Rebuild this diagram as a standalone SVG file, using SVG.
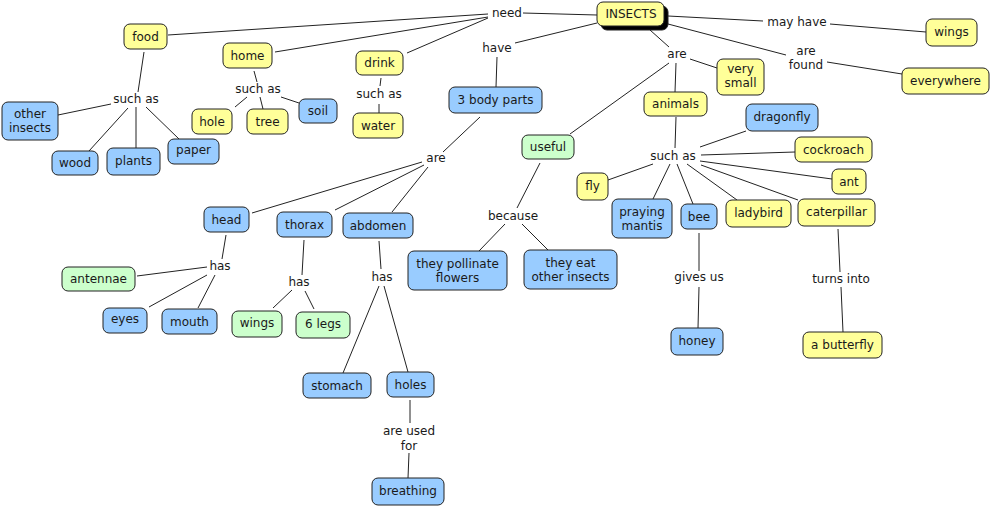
<svg xmlns="http://www.w3.org/2000/svg" width="991" height="507" viewBox="0 0 991 507">
<style>
text{font-family:"DejaVu Sans","Verdana",sans-serif;font-size:12px;fill:#1a1a1a;text-anchor:middle}
.n rect{stroke:#222;stroke-width:1}
.y rect{fill:#ffff99}
.b rect{fill:#99ccff}
.g rect{fill:#ccffcc}
#connectors line{stroke:#222;stroke-width:1}
</style>
<rect x="0" y="0" width="991" height="507" fill="#fff"/>
<g id="connectors">
<line x1="168" y1="35" x2="488" y2="14"/>
<line x1="275" y1="52" x2="488" y2="17"/>
<line x1="407" y1="53" x2="488" y2="18"/>
<line x1="523" y1="13" x2="597" y2="15"/>
<line x1="597" y1="23" x2="515" y2="43"/>
<line x1="497" y1="57" x2="496" y2="87"/>
<line x1="480" y1="117" x2="443" y2="152"/>
<line x1="422" y1="162" x2="252" y2="213"/>
<line x1="424" y1="165" x2="335" y2="210"/>
<line x1="428" y1="167" x2="392" y2="212"/>
<line x1="650" y1="30" x2="669" y2="47"/>
<line x1="669" y1="63" x2="570" y2="134"/>
<line x1="676" y1="63" x2="675" y2="92"/>
<line x1="690" y1="59" x2="717" y2="68"/>
<line x1="668" y1="16" x2="763" y2="21"/>
<line x1="830" y1="24" x2="926" y2="32"/>
<line x1="668" y1="24" x2="786" y2="55"/>
<line x1="827" y1="62" x2="902" y2="74"/>
<line x1="676" y1="117" x2="675" y2="148"/>
<line x1="700" y1="147" x2="746" y2="131"/>
<line x1="701" y1="155" x2="795" y2="152"/>
<line x1="700" y1="161" x2="832" y2="179"/>
<line x1="701" y1="165" x2="798" y2="200"/>
<line x1="687" y1="164" x2="737" y2="200"/>
<line x1="677" y1="164" x2="693" y2="204"/>
<line x1="670" y1="164" x2="653" y2="199"/>
<line x1="653" y1="164" x2="608" y2="180"/>
<line x1="699" y1="233" x2="699" y2="271"/>
<line x1="699" y1="287" x2="698" y2="328"/>
<line x1="838" y1="229" x2="840" y2="272"/>
<line x1="841" y1="287" x2="843" y2="332"/>
<line x1="540" y1="163" x2="517" y2="208"/>
<line x1="505" y1="224" x2="479" y2="251"/>
<line x1="522" y1="224" x2="548" y2="250"/>
<line x1="379" y1="241" x2="381" y2="269"/>
<line x1="379" y1="286" x2="343" y2="373"/>
<line x1="384" y1="286" x2="408" y2="372"/>
<line x1="410" y1="400" x2="410" y2="423"/>
<line x1="409" y1="453" x2="408" y2="478"/>
<line x1="226" y1="235" x2="222" y2="259"/>
<line x1="137" y1="276" x2="207" y2="267"/>
<line x1="149" y1="307" x2="207" y2="275"/>
<line x1="198" y1="308" x2="215" y2="275"/>
<line x1="304" y1="240" x2="302" y2="275"/>
<line x1="273" y1="308" x2="292" y2="290"/>
<line x1="314" y1="309" x2="305" y2="291"/>
<line x1="144" y1="52" x2="138" y2="92"/>
<line x1="111" y1="104" x2="58" y2="115"/>
<line x1="128" y1="108" x2="89" y2="151"/>
<line x1="136" y1="107" x2="136" y2="148"/>
<line x1="146" y1="107" x2="179" y2="139"/>
<line x1="254" y1="71" x2="257" y2="82"/>
<line x1="247" y1="97" x2="235" y2="107"/>
<line x1="260" y1="97" x2="263" y2="109"/>
<line x1="281" y1="97" x2="299" y2="103"/>
<line x1="381" y1="78" x2="380" y2="86"/>
<line x1="379" y1="104" x2="379" y2="113"/>
</g>
<!-- linking phrases -->
<g id="l-need"><text x="507" y="17">need</text></g>
<g id="l-have"><text x="497" y="52">have</text></g>
<g id="l-are1"><text x="677" y="58">are</text></g>
<g id="l-mayhave"><text x="797" y="26">may have</text></g>
<g id="l-arefound"><text x="806" y="55">are</text><text x="806" y="69">found</text></g>
<g id="l-suchas-food"><text x="136" y="103">such as</text></g>
<g id="l-suchas-home"><text x="258" y="93">such as</text></g>
<g id="l-suchas-drink"><text x="379" y="98">such as</text></g>
<g id="l-are2"><text x="436" y="162">are</text></g>
<g id="l-because"><text x="513" y="220">because</text></g>
<g id="l-suchas-animals"><text x="673" y="160">such as</text></g>
<g id="l-givesus"><text x="699" y="281">gives us</text></g>
<g id="l-turnsinto"><text x="841" y="283">turns into</text></g>
<g id="l-has-head"><text x="220" y="270">has</text></g>
<g id="l-has-thorax"><text x="299" y="286">has</text></g>
<g id="l-has-abdomen"><text x="382" y="281">has</text></g>
<g id="l-areusedfor"><text x="409" y="435">are used</text><text x="409" y="450">for</text></g>
<!-- concepts -->
<g id="insects" class="n y"><rect x="601" y="6" width="67" height="24" rx="6" fill="#000" style="fill:#000"/><rect x="597" y="2" width="67" height="24" rx="6" stroke-width="1.5"/><text x="631" y="18">INSECTS</text></g>
<g id="food" class="n y"><rect x="124" y="24" width="43" height="25" rx="6"/><text x="145.5" y="41">food</text></g>
<g id="home" class="n y"><rect x="223" y="43" width="49" height="25" rx="6"/><text x="247.5" y="60">home</text></g>
<g id="drink" class="n y"><rect x="356" y="51" width="47" height="24" rx="6"/><text x="379.5" y="67">drink</text></g>
<g id="water" class="n y"><rect x="353" y="113" width="50" height="25" rx="6"/><text x="378" y="130">water</text></g>
<g id="other-insects" class="n b"><rect x="2" y="102" width="56" height="38" rx="6"/><text x="30" y="118">other</text><text x="30" y="132">insects</text></g>
<g id="wood" class="n b"><rect x="52" y="151" width="46" height="24" rx="6"/><text x="75" y="167">wood</text></g>
<g id="plants" class="n b"><rect x="107" y="148" width="53" height="27" rx="6"/><text x="133.5" y="165">plants</text></g>
<g id="paper" class="n b"><rect x="168" y="139" width="51" height="25" rx="6"/><text x="193.5" y="154">paper</text></g>
<g id="hole" class="n y"><rect x="192" y="109" width="40" height="25" rx="6"/><text x="212" y="126">hole</text></g>
<g id="tree" class="n y"><rect x="247" y="109" width="41" height="25" rx="6"/><text x="267.5" y="126">tree</text></g>
<g id="soil" class="n b"><rect x="299" y="99" width="38" height="24" rx="6"/><text x="318" y="115">soil</text></g>
<g id="body-parts" class="n b"><rect x="449" y="87" width="93" height="26" rx="6"/><text x="495.5" y="104">3 body parts</text></g>
<g id="useful" class="n g"><rect x="522" y="135" width="52" height="24" rx="6"/><text x="548" y="151">useful</text></g>
<g id="very-small" class="n y"><rect x="717" y="59" width="47" height="36" rx="6"/><text x="740.5" y="73">very</text><text x="740.5" y="87">small</text></g>
<g id="wings-top" class="n y"><rect x="926" y="19" width="51" height="27" rx="6"/><text x="951.5" y="36">wings</text></g>
<g id="everywhere" class="n y"><rect x="902" y="68" width="87" height="26" rx="6"/><text x="945.5" y="85">everywhere</text></g>
<g id="animals" class="n y"><rect x="644" y="92" width="63" height="24" rx="6"/><text x="675.5" y="108">animals</text></g>
<g id="dragonfly" class="n b"><rect x="746" y="104" width="72" height="27" rx="6"/><text x="782" y="121">dragonfly</text></g>
<g id="cockroach" class="n y"><rect x="795" y="137" width="77" height="25" rx="6"/><text x="833.5" y="154">cockroach</text></g>
<g id="ant" class="n y"><rect x="832" y="169" width="34" height="25" rx="6"/><text x="849" y="186">ant</text></g>
<g id="fly" class="n y"><rect x="577" y="173" width="31" height="27" rx="6"/><text x="592.5" y="190">fly</text></g>
<g id="praying-mantis" class="n b"><rect x="612" y="199" width="60" height="39" rx="6"/><text x="642" y="216">praying</text><text x="642" y="230">mantis</text></g>
<g id="bee" class="n b"><rect x="681" y="204" width="36" height="25" rx="6"/><text x="699" y="221">bee</text></g>
<g id="ladybird" class="n y"><rect x="726" y="200" width="65" height="27" rx="6"/><text x="758.5" y="217">ladybird</text></g>
<g id="caterpillar" class="n y"><rect x="798" y="199" width="77" height="27" rx="6"/><text x="836.5" y="216">caterpillar</text></g>
<g id="honey" class="n b"><rect x="671" y="328" width="52" height="27" rx="6"/><text x="697" y="345">honey</text></g>
<g id="butterfly" class="n y"><rect x="803" y="332" width="79" height="26" rx="6"/><text x="842.5" y="349">a butterfly</text></g>
<g id="head" class="n b"><rect x="204" y="207" width="45" height="25" rx="6"/><text x="226.5" y="224">head</text></g>
<g id="thorax" class="n b"><rect x="277" y="212" width="55" height="25" rx="6"/><text x="304.5" y="229">thorax</text></g>
<g id="abdomen" class="n b"><rect x="343" y="213" width="70" height="25" rx="6"/><text x="378" y="230">abdomen</text></g>
<g id="antennae" class="n g"><rect x="62" y="267" width="73" height="24" rx="6"/><text x="98.5" y="283">antennae</text></g>
<g id="eyes" class="n b"><rect x="103" y="308" width="44" height="25" rx="6"/><text x="125" y="323">eyes</text></g>
<g id="mouth" class="n b"><rect x="162" y="309" width="55" height="25" rx="6"/><text x="189.5" y="326">mouth</text></g>
<g id="wings-green" class="n g"><rect x="232" y="311" width="50" height="26" rx="6"/><text x="257" y="327">wings</text></g>
<g id="six-legs" class="n g"><rect x="296" y="312" width="54" height="26" rx="6"/><text x="323" y="328">6 legs</text></g>
<g id="pollinate" class="n b"><rect x="408" y="251" width="99" height="39" rx="6"/><text x="457.5" y="268">they pollinate</text><text x="457.5" y="282">flowers</text></g>
<g id="eat-insects" class="n b"><rect x="524" y="250" width="93" height="39" rx="6"/><text x="570.5" y="267">they eat</text><text x="570.5" y="281">other insects</text></g>
<g id="stomach" class="n b"><rect x="303" y="373" width="68" height="25" rx="6"/><text x="337" y="390">stomach</text></g>
<g id="holes" class="n b"><rect x="387" y="372" width="47" height="25" rx="6"/><text x="410.5" y="389">holes</text></g>
<g id="breathing" class="n b"><rect x="372" y="478" width="72" height="27" rx="6"/><text x="408" y="495">breathing</text></g>
</svg>
